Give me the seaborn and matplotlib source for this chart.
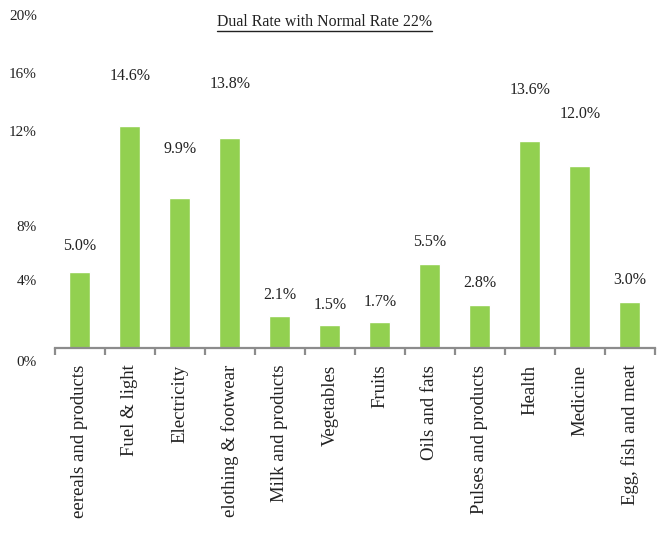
# Dual rate vs normal rate 22% - bar chart

import matplotlib.pyplot as plt
import seaborn as sns
from matplotlib.lines import Line2D

categories = ['eereals and products', 'Fuel & light', 'Electricity', 'elothing & footwear',
              'Milk and products', 'Vegetables', 'Fruits', 'Oils and fats',
              'Pulses and products', 'Health', 'Medicine', 'Egg, fish and meat']
rates = [5.0, 14.6, 9.9, 13.8, 2.1, 1.5, 1.7, 5.5, 2.8, 13.6, 12.0, 3.0]

# where the value labels sit (they float above the bars at uneven heights)
label_y = [6.7, 17.9, 13.1, 17.4, 3.5, 2.8, 3.0, 7.0, 4.3, 17.0, 15.4, 4.5]

# the y tick labels are placed unevenly in the original
ytick_pos = [-0.85, 4.5, 8.0, 14.3, 18.1, 21.9]
ytick_labels = ['0%', '4%', '8%', '12%', '16%', '20%']

sns.set_style('white')
plt.rcParams['font.family'] = ['Liberation Serif', 'DejaVu Serif']

fig, ax = plt.subplots(figsize=(6.6, 5.41), dpi=100)
fig.subplots_adjust(left=0.0833, right=0.9924, bottom=0.3231, top=0.9804)

sns.barplot(x=categories, y=rates, color='#92D050', saturation=1, width=0.42, ax=ax)

for i, (v, ly) in enumerate(zip(rates, label_y)):
    ax.text(i, ly, f'{v:.1f}%', ha='center', va='center', fontsize=11.5, color='#222222')

ax.set_xlim(-0.5, len(categories) - 0.5)
ax.set_ylim(-1.2, 22.2)

for s in ['left', 'right', 'top']:
    ax.spines[s].set_visible(False)
ax.spines['bottom'].set_position(('data', 0))
ax.spines['bottom'].set_color('#8c8c8c')
ax.spines['bottom'].set_linewidth(1.6)

ax.set_xticks(range(len(categories)))
ax.set_xticklabels(categories, rotation=90, fontsize=13.5, color='#222222')
ax.set_xticks([i - 0.5 for i in range(len(categories) + 1)], minor=True)
ax.tick_params(axis='x', which='major', bottom=True, length=0, pad=12)
ax.tick_params(axis='x', which='minor', bottom=True, length=5, width=1.6, color='#8c8c8c',
               direction='out')

ax.set_yticks(ytick_pos)
ax.set_yticklabels(ytick_labels, fontsize=11, color='#222222')
ax.tick_params(axis='y', length=0, pad=13)
ax.set_xlabel('')
ax.set_ylabel('')

# underlined title
title = fig.text(0.492, 1 - 22 / 541, 'Dual Rate with Normal Rate 22%', ha='center', va='center',
                 fontsize=11.4, color='#222222')
fig.canvas.draw()
bb = title.get_window_extent(fig.canvas.get_renderer()).transformed(fig.transFigure.inverted())
fig.add_artist(Line2D([bb.x0, bb.x1], [bb.y0 - 0.002, bb.y0 - 0.002], transform=fig.transFigure,
                      color='#222222', linewidth=1))

plt.savefig('out.png', dpi=100)
